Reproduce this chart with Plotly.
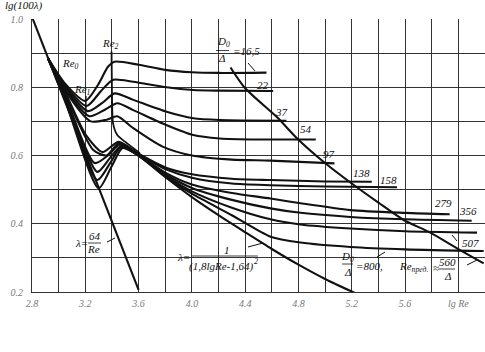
import plotly.graph_objects as go

# ---------------- data ----------------
lam_x = [2.8, 3.6]
lam_y = [1.006, 0.206]

smooth_x = [3.45, 3.6, 3.8, 4.0, 4.2, 4.4, 4.6, 4.8, 5.0, 5.23]
smooth_y = [0.635, 0.600, 0.537, 0.478, 0.425, 0.375, 0.326, 0.280, 0.238, 0.196]

repred_x = [4.29, 4.40, 4.64, 4.79, 4.99, 5.21, 5.40, 5.59, 5.79, 5.99, 6.19]
repred_y = [0.858, 0.797, 0.712, 0.650, 0.581, 0.515, 0.462, 0.411, 0.374, 0.328, 0.284]

re2_x = [3.397, 3.40, 3.408, 3.44, 3.483, 3.61]
re2_y = [0.905, 0.79, 0.695, 0.66, 0.645, 0.607]

rough_labels = ["16,5", "22", "37", "54", "97", "138", "158", "279", "356", "507", "800"]

x_165 = [2.92, 3.05, 3.2, 3.30, 3.37, 3.42, 3.6, 3.8, 4.0, 4.2, 4.56]
y_165 = [0.885, 0.81, 0.76, 0.81, 0.86, 0.875, 0.866, 0.851, 0.844, 0.842, 0.843]
x_22 = [2.92, 3.05, 3.21, 3.32, 3.41, 3.56, 3.81, 4.01, 4.2, 4.61]
y_22 = [0.885, 0.805, 0.745, 0.79, 0.822, 0.816, 0.800, 0.792, 0.790, 0.789]
x_37 = [2.92, 3.05, 3.22, 3.33, 3.42, 3.56, 3.81, 4.01, 4.21, 4.71]
y_37 = [0.885, 0.80, 0.73, 0.755, 0.782, 0.763, 0.728, 0.709, 0.704, 0.702]
x_54 = [2.92, 3.05, 3.23, 3.35, 3.44, 3.56, 3.81, 4.01, 4.21, 4.5, 4.93]
y_54 = [0.885, 0.795, 0.715, 0.735, 0.753, 0.733, 0.689, 0.660, 0.650, 0.647, 0.647]
x_97 = [2.92, 3.05, 3.24, 3.36, 3.44, 3.56, 3.78, 4.0, 4.3, 4.59, 5.07]
y_97 = [0.885, 0.79, 0.70, 0.705, 0.715, 0.68, 0.626, 0.600, 0.588, 0.585, 0.577]
x_138 = [2.92, 3.05, 3.205, 3.33, 3.45, 3.6, 3.8, 4.0, 4.3, 4.59, 5.0, 5.35]
y_138 = [0.885, 0.785, 0.66, 0.61, 0.64, 0.605, 0.565, 0.545, 0.532, 0.528, 0.524, 0.523]
x_158 = [2.92, 3.05, 3.26, 3.36, 3.45, 3.6, 3.8, 4.0, 4.3, 4.59, 5.0, 5.54]
y_158 = [0.885, 0.78, 0.616, 0.60, 0.635, 0.603, 0.560, 0.535, 0.518, 0.513, 0.509, 0.507]
x_279 = [2.92, 3.05, 3.27, 3.37, 3.46, 3.6, 3.8, 4.0, 4.3, 4.59, 4.815, 5.19, 5.6, 5.935]
y_279 = [0.885, 0.775, 0.578, 0.60, 0.632, 0.601, 0.550, 0.515, 0.490, 0.474, 0.460, 0.440, 0.432, 0.428]
x_356 = [2.92, 3.05, 3.29, 3.38, 3.47, 3.6, 3.8, 4.0, 4.3, 4.59, 4.815, 5.19, 5.6, 6.1]
y_356 = [0.885, 0.77, 0.552, 0.59, 0.628, 0.60, 0.545, 0.505, 0.470, 0.445, 0.432, 0.420, 0.413, 0.409]
x_507 = [2.92, 3.05, 3.29, 3.39, 3.47, 3.6, 3.8, 4.0, 4.3, 4.59, 4.815, 5.19, 5.6, 6.14]
y_507 = [0.885, 0.765, 0.528, 0.58, 0.625, 0.60, 0.541, 0.495, 0.447, 0.413, 0.398, 0.386, 0.378, 0.374]
x_800 = [2.92, 3.05, 3.30, 3.40, 3.48, 3.6, 3.8, 4.0, 4.3, 4.59, 4.815, 5.19, 5.6, 6.19]
y_800 = [0.885, 0.76, 0.504, 0.57, 0.622, 0.60, 0.538, 0.488, 0.425, 0.362, 0.345, 0.332, 0.325, 0.320]

rough_x = [x_165, x_22, x_37, x_54, x_97, x_138, x_158, x_279, x_356, x_507, x_800]
rough_y = [y_165, y_22, y_37, y_54, y_97, y_138, y_158, y_279, y_356, y_507, y_800]

x_tickvals = [2.8, 3.2, 3.6, 4.0, 4.4, 4.8, 5.2, 5.6, 6.0]
x_ticktext = ["2.8", "3.2", "3.6", "4.0", "4.4", "4.8", "5.2", "5.6", "lg Re"]
y_tickvals = [0.2, 0.4, 0.6, 0.8, 1.0]
y_ticktext = ["0.2", "0.4", "0.6", "0.8", "1.0"]

# ---------------- figure ----------------
W, H = 485, 352
ML, MR, MT, MB = 32, 0, 19, 60
X0, X1 = 2.8, 6.2
Y0, Y1 = 0.2, 1.0


def px(xp):
    return X0 + (xp - ML) / (W - ML - MR) * (X1 - X0)


def py(yp):
    return Y1 - (yp - MT) / (H - MT - MB) * (Y1 - Y0)


LW = 2.1
fig = go.Figure()
line_style = dict(color="#111", width=LW, shape="spline", smoothing=0.7)
fig.add_trace(go.Scatter(x=lam_x, y=lam_y, mode="lines", line=dict(color="#111", width=LW)))
fig.add_trace(go.Scatter(x=smooth_x, y=smooth_y, mode="lines", line=line_style))
fig.add_trace(go.Scatter(x=repred_x, y=repred_y, mode="lines", line=line_style))
fig.add_trace(go.Scatter(x=re2_x, y=re2_y, mode="lines",
                         line=dict(color="#111", width=1.8, shape="spline", smoothing=0.6)))
for xs, ys in zip(rough_x, rough_y):
    fig.add_trace(go.Scatter(x=xs, y=ys, mode="lines", line=line_style))

SERIF = "Liberation Serif, Times New Roman, serif"
anns = []


def text(xp, yp, s, size=11, xanchor="center", yanchor="middle", color="#111"):
    anns.append(dict(x=px(xp), y=py(yp), xref="x", yref="y", text=s, showarrow=False,
                     xanchor=xanchor, yanchor=yanchor,
                     font=dict(family=SERIF, size=size, color=color, style="italic")))


shapes = []


def seg(x0p, y0p, x1p, y1p, w=1):
    shapes.append(dict(type="line", xref="x", yref="y", x0=px(x0p), y0=py(y0p), x1=px(x1p), y1=py(y1p),
                       line=dict(color="#111", width=w)))


# axis title
anns.append(dict(x=(3 - ML) / (W - ML - MR), y=(H - MB - 6) / (H - MT - MB), xref="paper", yref="paper",
                 text="lg(100λ)", showarrow=False, xanchor="left", yanchor="middle",
                 font=dict(family=SERIF, size=11, color="#111", style="italic")))

# Re labels
text(70, 64, "Re<sub>0</sub>", 11)
text(82, 90, "Re<sub>1</sub>", 11)
text(110, 44, "Re<sub>2</sub>", 11)
seg(86, 96, 86, 116, 1.2)

# D0/Δ = 16,5
text(223, 42, "D<sub>0</sub>", 11)
seg(216, 50.5, 229, 50.5, 0.8)
text(221, 58, "Δ", 11)
text(231, 51, "=16,5", 11, xanchor="left")
seg(248, 63, 255, 71)

# curve labels
text(263, 85, rough_labels[1])
text(281, 112, rough_labels[2])
text(306, 129, rough_labels[3])
text(329, 154, rough_labels[4])
text(361, 173, rough_labels[5])
text(388, 180, rough_labels[6])
text(443, 203, rough_labels[7])
text(468, 211, rough_labels[8])
text(470, 243, rough_labels[9])
seg(452, 235, 457, 241)

# D0/Δ = 800
text(347, 257, "D<sub>0</sub>", 11)
seg(342, 264, 353, 264, 0.8)
text(347, 272, "Δ", 11)
text(354, 266, "=800,", 11, xanchor="left")
seg(377, 257, 385, 252)

# Re_pred
text(413, 267, "Re<sub>пред.</sub>", 11)
text(436, 268, "≈", 11)
text(447, 262, "560", 11)
seg(439, 269, 455, 269, 0.8)
text(447, 276, "Δ", 11)
seg(467, 265, 477, 260)

# λ = 64/Re
text(81, 243, "λ=", 11)
text(95, 236, "64", 11)
seg(88, 243, 101, 243, 0.8)
text(93, 249, "Re", 11)
seg(107, 242, 115, 238)

# smooth formula
text(183, 257, "λ=", 11)
text(227, 250, "1", 11)
seg(192, 256, 258, 256, 0.8)
text(221, 266, "(1,8lgRe-1,64)", 11)
text(256, 261, "2", 8)
seg(248, 247, 263, 243)

axis_font = dict(family=SERIF, size=10, color="#777", style="italic")
fig.update_layout(
    width=W, height=H, margin=dict(l=ML, r=MR, t=MT, b=MB),
    paper_bgcolor="white", plot_bgcolor="white", showlegend=False,
    annotations=anns, shapes=shapes,
    xaxis=dict(range=[X0, X1], tickmode="array", tickvals=x_tickvals, ticktext=x_ticktext,
               showgrid=True, gridcolor="#333", gridwidth=1, ticks="", tickfont=axis_font,
               ticklabelstandoff=2, zeroline=False, showline=True, linecolor="#333", linewidth=1,
               minor=dict(tick0=2.8, dtick=0.2, showgrid=True, gridcolor="#333", gridwidth=1)),
    yaxis=dict(range=[Y0, Y1], tickmode="array", tickvals=y_tickvals, ticktext=y_ticktext,
               showgrid=True, gridcolor="#333", gridwidth=1, ticks="", tickfont=axis_font,
               ticklabelstandoff=6, zeroline=False, showline=True, linecolor="#333", linewidth=1,
               mirror=True,
               minor=dict(tick0=0.2, dtick=0.1, showgrid=True, gridcolor="#333", gridwidth=1)),
)
fig.write_html("out.html")
